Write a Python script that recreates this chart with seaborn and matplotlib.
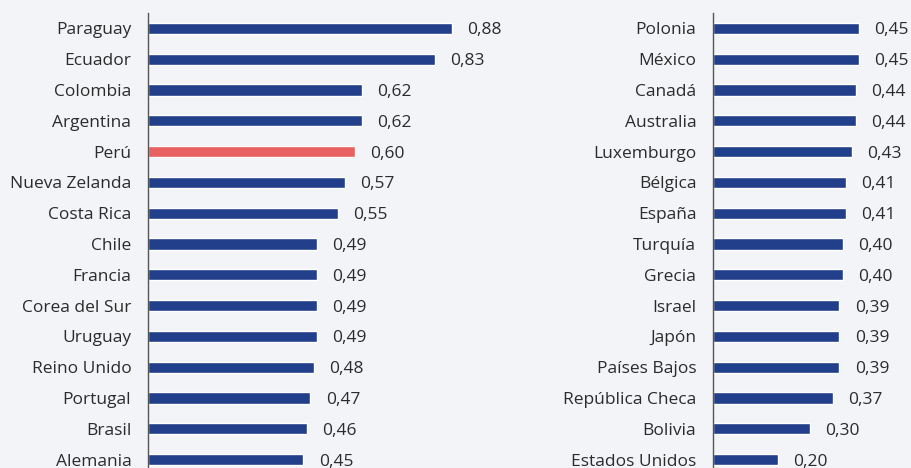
import seaborn as sns
import pandas as pd
import matplotlib.pyplot as plt
from matplotlib.ticker import MultipleLocator

# Data (left and right panels)
left_countries = ["Paraguay", "Ecuador", "Colombia", "Argentina", "Perú", "Nueva Zelanda",
                  "Costa Rica", "Chile", "Francia", "Corea del Sur", "Uruguay", "Reino Unido",
                  "Portugal", "Brasil", "Alemania"]
left_values = [0.88, 0.83, 0.62, 0.62, 0.60, 0.57, 0.55, 0.49, 0.49, 0.49, 0.49, 0.48,
               0.47, 0.46, 0.45]

right_countries = ["Polonia", "México", "Canadá", "Australia", "Luxemburgo", "Bélgica",
                   "España", "Turquía", "Grecia", "Israel", "Japón", "Países Bajos",
                   "República Checa", "Bolivia", "Estados Unidos"]
right_values = [0.45, 0.45, 0.44, 0.44, 0.43, 0.41, 0.41, 0.40, 0.40, 0.39, 0.39, 0.39,
                0.37, 0.30, 0.20]

highlight = "Perú"

NAVY = "#213f8a"
RED = "#e8605f"
BG = "#f3f4f8"
TXT = "#2b2b2b"

sns.set_style("white")
plt.rcParams['font.family'] = ['Open Sans', 'DejaVu Sans']

W, H = 912, 468
fig = plt.figure(figsize=(W / 100, H / 100), dpi=100)
fig.patch.set_facecolor(BG)

# axes geometry in pixels: spine x, px per unit, width
panels = [
    (left_countries, left_values, 148, 345.5, 420),
    (right_countries, right_values, 713, 324.0, 199),
]
top_px = 13
row_px = 30.8
height_px = row_px * 15

for countries, values, x0, ppu, wpx in panels:
    ax = fig.add_axes([x0 / W, 1 - (top_px + height_px) / H, wpx / W, height_px / H])
    ax.set_facecolor(BG)
    df = pd.DataFrame({"pais": countries, "valor": values})
    pal = {c: (RED if c == highlight else NAVY) for c in countries}
    sns.barplot(ax=ax, data=df, x="valor", y="pais", hue="pais", palette=pal,
                legend=False, width=0.37, orient="h", saturation=1)
    ax.set_xlim(0, wpx / ppu)
    ax.set_ylim(14.5, -0.5)
    ax.set(xlabel="", ylabel="")
    for cont in ax.containers:
        anns = ax.bar_label(cont, labels=[f"{v:.2f}".replace(".", ",") for v in cont.datavalues],
                            padding=11, fontsize=12.5, color=TXT)
        for a in anns:
            a.xyann = (11, -1.5)
    for s in ["top", "right", "bottom"]:
        ax.spines[s].set_visible(False)
    ax.spines["left"].set_color("#555555")
    ax.spines["left"].set_linewidth(1.0)
    ax.set_xticks([])
    ax.yaxis.set_minor_locator(MultipleLocator(1, offset=0.5))
    ax.tick_params(axis="y", which="major", length=0, pad=12, labelsize=12.5, labelcolor=TXT)
    ax.tick_params(axis="y", which="minor", length=4, width=1, color="#555555", direction="out")

fig.savefig("out.png", dpi=100, facecolor=BG)
